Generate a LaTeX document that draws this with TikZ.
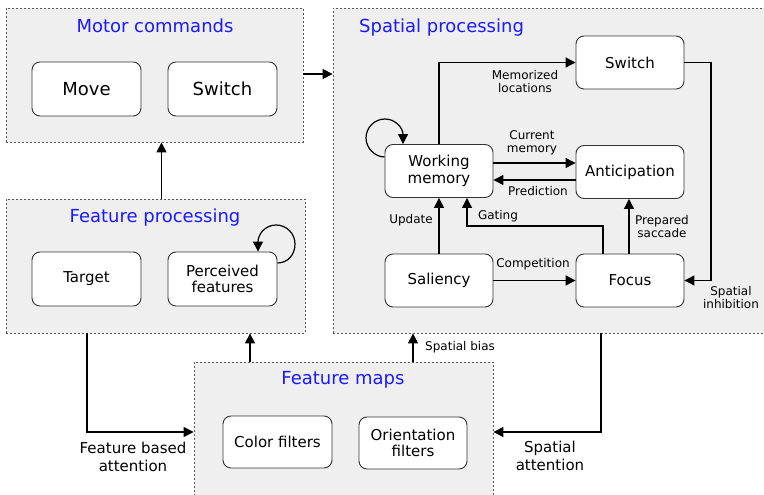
\documentclass[tikz,border=0pt]{standalone}
\usepackage{fontspec}
\setmainfont{DejaVu Sans}
\usetikzlibrary{arrows.meta}
\definecolor{grpfill}{HTML}{EFEFEF}
\definecolor{grpline}{HTML}{555555}
\definecolor{ttlblue}{HTML}{1A1AFF}
\definecolor{boxline}{HTML}{333333}
\begin{document}
\begin{tikzpicture}[x=1pt,y=-1pt,
  group/.style={draw=grpline, fill=grpfill, line width=0.8pt, dash pattern=on 2pt off 2pt, rectangle, inner sep=0pt},
  title/.style={text=ttlblue, font=\fontsize{18}{20}\selectfont},
  bigbox/.style={draw=boxline, fill=white, rounded corners=8pt, line width=0.9pt, minimum width=109pt, minimum height=54pt, align=center, font=\fontsize{18}{20}\selectfont, inner sep=0pt},
  box/.style={draw=boxline, fill=white, rounded corners=8pt, line width=0.9pt, minimum width=108pt, minimum height=53pt, align=center, font=\fontsize{15}{16.5}\selectfont, inner sep=0pt},
  lbl/.style={align=center, font=\fontsize{12}{13}\selectfont, inner sep=0pt},
  biglbl/.style={align=center, font=\fontsize{15}{17.5}\selectfont, inner sep=0pt},
  arr/.style={-{Triangle[length=10pt,width=10pt]}, line width=1.2pt}
]
\useasboundingbox (0,0) rectangle (764,495);
\begin{scope}
\clip (0,0) rectangle (764,495);
% groups
\node[group, minimum width=297pt, minimum height=134pt] (motor) at (154.5,75) {};
\node[group, minimum width=299pt, minimum height=134pt] (fp) at (155.5,266) {};
\node[group, minimum width=440pt, minimum height=325pt] (sp) at (553,170.5) {};
\node[group, minimum width=299pt, minimum height=150pt] (fm) at (343.5,437) {};
\end{scope}
% titles
\node[title] (tmotor) at (155,26) {Motor commands};
\node[title] (tfp) at (155,218) {Feature processing};
\node[title, anchor=west, inner sep=0pt] (tsp) at (359,28) {Spatial processing};
\node[title] (tfm) at (343,380) {Feature maps};
% boxes
\node[bigbox] (move) at (86.5,89) {Move};
\node[bigbox] (mswitch) at (222.5,89) {Switch};
\node[box, minimum width=109pt, minimum height=54pt] (target) at (86.5,279) {Target};
\node[box, minimum width=109pt, minimum height=54pt] (perc) at (222.5,279) {Perceived\\features};
\node[box] (sw) at (630,62.5) {Switch};
\node[box] (wm) at (439,171) {Working\\memory};
\node[box] (ant) at (630,172) {Anticipation};
\node[box] (sal) at (439,280.5) {Saliency};
\node[box] (foc) at (630,280.5) {Focus};
\node[box, minimum width=109pt, minimum height=52pt] (color) at (277.5,442) {Color filters};
\node[box, minimum height=52pt] (orient) at (413,443) {Orientation\\filters};
% connectors between groups
\draw[arr] (motor.east |- 0,74) -- (sp.west |- 0,74);
\draw[arr] (fp.north -| 161.5,0) -- (motor.south -| 161.5,0);
\draw[arr] (fp.south -| 87,0) |- (fm.west |- 0,432);
\draw[arr] (fm.north -| 250,0) -- (fp.south -| 250,0);
\draw[arr] (fm.north -| 413,0) -- (sp.south -| 413,0);
\draw[arr] (sp.south -| 601,0) |- (fm.east |- 0,432);
\node[lbl, anchor=west] (lbias) at (425,347) {Spatial bias};
\node[biglbl] (lfba) at (133,457) {Feature based\\attention};
\node[biglbl] (lsa) at (550,456) {Spatial\\attention};
% spatial internal
\draw[arr] (wm.north) |- (sw.west);
\draw[arr] (wm.east |- 0,163) -- (ant.west |- 0,163);
\draw[arr] (ant.west |- 0,180) -- (wm.east |- 0,180);
\draw[arr] (sal.north) -- (wm.south);
\draw[arr] (foc.north -| 603,0) |- (467,226) -- (wm.south -| 467,0);
\draw[arr] (foc.north -| 629,0) -- (ant.south -| 629,0);
\draw[arr] (sal.east) -- (foc.west);
\draw[arr] (sw.east) -- (sw.east -| 711,0) |- (foc.east);
% self loops
\draw[-{Triangle[length=10pt,width=10pt]}, line width=1.2pt] (wm.west |- 0,157) .. controls (375.5,157) and (366,148.5) .. (366,138) .. controls (366,127.5) and (374.5,119) .. (385,119) .. controls (395.5,119) and (403,128) .. (wm.north -| 403,0);
\draw[-{Triangle[length=10pt,width=10pt]}, line width=1.2pt] (perc.east |- 0,263) .. controls (288,263) and (295,254.5) .. (295,244) .. controls (295,233.5) and (286.5,225) .. (276,225) .. controls (265.5,225) and (258,234) .. (perc.north -| 258,0);
% labels
\node[lbl] (lmem) at (525,81.5) {Memorized\\locations};
\node[lbl] (lcur) at (532,142.5) {Current\\memory};
\node[lbl] (lpred) at (538,191) {Prediction};
\node[lbl] (lupd) at (411,220) {Update};
\node[lbl] (lgat) at (498,216) {Gating};
\node[lbl] (lprep) at (662,226.5) {Prepared\\saccade};
\node[lbl] (lcomp) at (533,264) {Competition};
\node[lbl] (linh) at (731,298) {Spatial\\inhibition};
\end{tikzpicture}
\end{document}
